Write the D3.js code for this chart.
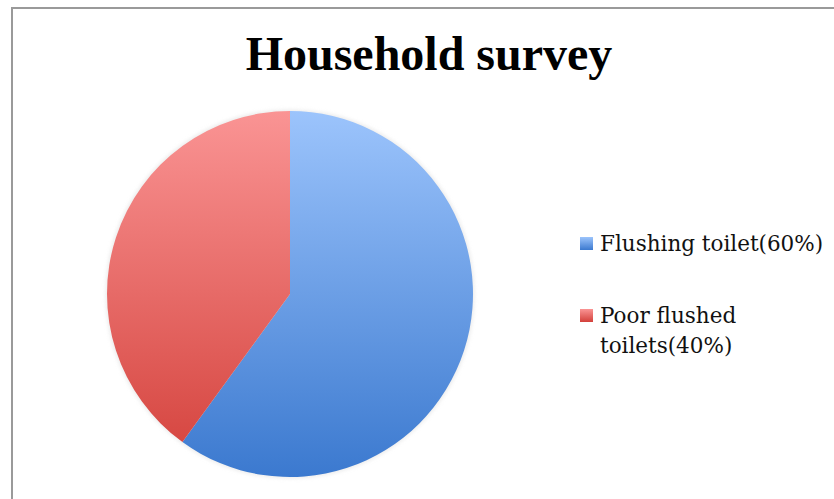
<!DOCTYPE html>
<html>
<head>
<meta charset="utf-8">
<script src="https://cdn.jsdelivr.net/npm/d3@7"></script>
<style>
  body { margin: 0; background: #fff; }
  svg { display: block; }
</style>
</head>
<body>
<div id="chart"></div>
<script>
var title = "Household survey"
var categories = ["Flushing toilet", "Poor flushed toilets"]
var values = [60, 40]
var legendLines = [["Flushing toilet(60%)"], ["Poor flushed", "toilets(40%)"]]
var colorsTop = ["#9cc4fc", "#fa9494"]
var colorsBottom = ["#3b79cf", "#d3403a"]

var W = 834, H = 499
var cx = 290, cy = 294, r = 183

var svg = d3.select("#chart").append("svg")
  .attr("width", W)
  .attr("height", H)

var defs = svg.append("defs")
categories.forEach(function (c, i) {
  // pie slices are drawn inside a translated group, so local coords
  var g = defs.append("linearGradient")
    .attr("id", "pieGrad" + i)
    .attr("gradientUnits", "userSpaceOnUse")
    .attr("x1", 0).attr("y1", -r)
    .attr("x2", 0).attr("y2", r)
  g.append("stop").attr("offset", "0%").attr("stop-color", colorsTop[i])
  g.append("stop").attr("offset", "100%").attr("stop-color", colorsBottom[i])

  var lg = defs.append("linearGradient")
    .attr("id", "legGrad" + i)
    .attr("x1", 0).attr("y1", 0).attr("x2", 0).attr("y2", 1)
  lg.append("stop").attr("offset", "0%").attr("stop-color", colorsTop[i])
  lg.append("stop").attr("offset", "100%").attr("stop-color", colorsBottom[i])
})

var f = defs.append("filter").attr("id", "soft")
  .attr("x", "-10%").attr("y", "-10%").attr("width", "120%").attr("height", "120%")
f.append("feGaussianBlur").attr("stdDeviation", 2)

// frame
svg.append("path")
  .attr("d", "M12," + H + " L12,8 L" + W + ",8")
  .attr("fill", "none")
  .attr("stroke", "#9a9a9a")
  .attr("stroke-width", 2)

svg.append("text")
  .attr("x", 429)
  .attr("y", 70)
  .attr("text-anchor", "middle")
  .style("font-family", "'Liberation Serif', serif")
  .style("font-weight", "bold")
  .style("font-size", "48px")
  .text(title)

var pie = d3.pie().sort(null).value(function (d) { return d; })
var arc = d3.arc().innerRadius(0).outerRadius(r)

var g = svg.append("g").attr("transform", "translate(" + cx + "," + cy + ")")

g.append("circle")
  .attr("r", r + 1)
  .attr("fill", "#d8d8d8")
  .attr("opacity", 0.6)
  .attr("filter", "url(#soft)")

g.selectAll(".slice")
  .data(pie(values))
  .enter()
  .append("path")
  .attr("class", "slice")
  .attr("d", arc)
  .attr("fill", function (d, i) { return "url(#pieGrad" + i + ")" })

var legendY = [251, 323]
var leg = svg.selectAll(".legend")
  .data(categories)
  .enter()
  .append("g")
  .attr("class", "legend")

leg.append("rect")
  .attr("x", 580)
  .attr("y", function (d, i) { return legendY[i] - 14 })
  .attr("width", 13)
  .attr("height", 13)
  .attr("fill", function (d, i) { return "url(#legGrad" + i + ")" })

leg.append("text")
  .attr("x", 600)
  .attr("y", function (d, i) { return legendY[i] })
  .style("font-family", "'DejaVu Serif', serif")
  .style("font-size", "21.5px")
  .style("fill", "#111")
  .selectAll("tspan")
  .data(function (d, i) { return legendLines[i] })
  .enter()
  .append("tspan")
  .attr("x", 600)
  .attr("dy", function (d, j) { return j === 0 ? 0 : 30 })
  .text(function (d) { return d })
</script>
</body>
</html>
